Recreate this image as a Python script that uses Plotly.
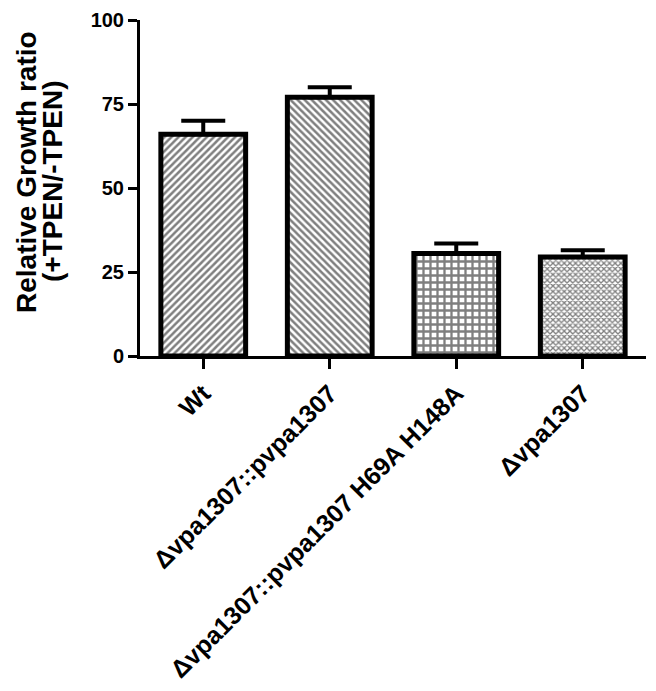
import plotly.graph_objects as go

categories = ["Wt", "Δvpa1307::pvpa1307", "Δvpa1307::pvpa1307 H69A H148A", "Δvpa1307"]
values = [66, 77, 30.5, 29.5]
errors = [4, 3, 3, 2]
patterns = ["/", "\\", "+", "x"]
title_lines = ["Relative Growth ratio", "(+TPEN/-TPEN)"]

font = "Arial, Liberation Sans, sans-serif"

# the page body adds an 8px offset, so margins are trimmed by that much
L, R, T, B = 132, 18, 12, 343
W, H = 656, 691
plot_w = W - L - R
plot_h = H - T - B

fig = go.Figure()
fig.add_trace(go.Bar(
    x=categories, y=values,
    width=0.67,
    marker=dict(
        color="white",
        line=dict(color="black", width=5),
        pattern=dict(shape=patterns, fgcolor="black", bgcolor="white",
                     size=[5, 5, 7, 4], solidity=[0.5, 0.5, 0.55, 0.55]),
    ),
    error_y=dict(type="data", array=errors, arrayminus=[0, 0, 0, 0], symmetric=False,
                 color="black", thickness=4, width=22),
    showlegend=False,
))

fig.update_layout(
    width=W, height=H,
    margin=dict(l=L, r=R, t=T, b=B),
    plot_bgcolor="white", paper_bgcolor="white",
    font=dict(family=font, color="black", size=18),
)
fig.update_xaxes(
    range=[-0.5, 3.5], automargin=False,
    showline=True, linecolor="black", linewidth=3,
    ticks="outside", ticklen=10, tickwidth=3, tickcolor="black",
    tickangle=-45,
    tickfont=dict(family=font, size=25, weight="bold"),
    showgrid=False,
)
fig.update_yaxes(
    range=[0, 100], tickvals=[0, 25, 50, 75, 100], automargin=False,
    showline=True, linecolor="black", linewidth=3,
    ticks="outside", ticklen=9, tickwidth=3, tickcolor="black",
    tickfont=dict(family=font, size=20, weight="bold"),
    showgrid=False, zeroline=False,
)

# y-axis title as two tightly spaced rotated lines (positions in page pixels)
for text, xpx, ypx in zip(title_lines, [27, 53], [172, 182]):
    fig.add_annotation(
        text=text, textangle=-90, showarrow=False,
        xref="paper", yref="paper",
        x=(xpx - 8 - L) / plot_w, y=(plot_h + T - (ypx - 8)) / plot_h,
        xanchor="center", yanchor="middle",
        font=dict(family=font, size=28, weight="bold"),
    )

fig.write_html("out.html")
